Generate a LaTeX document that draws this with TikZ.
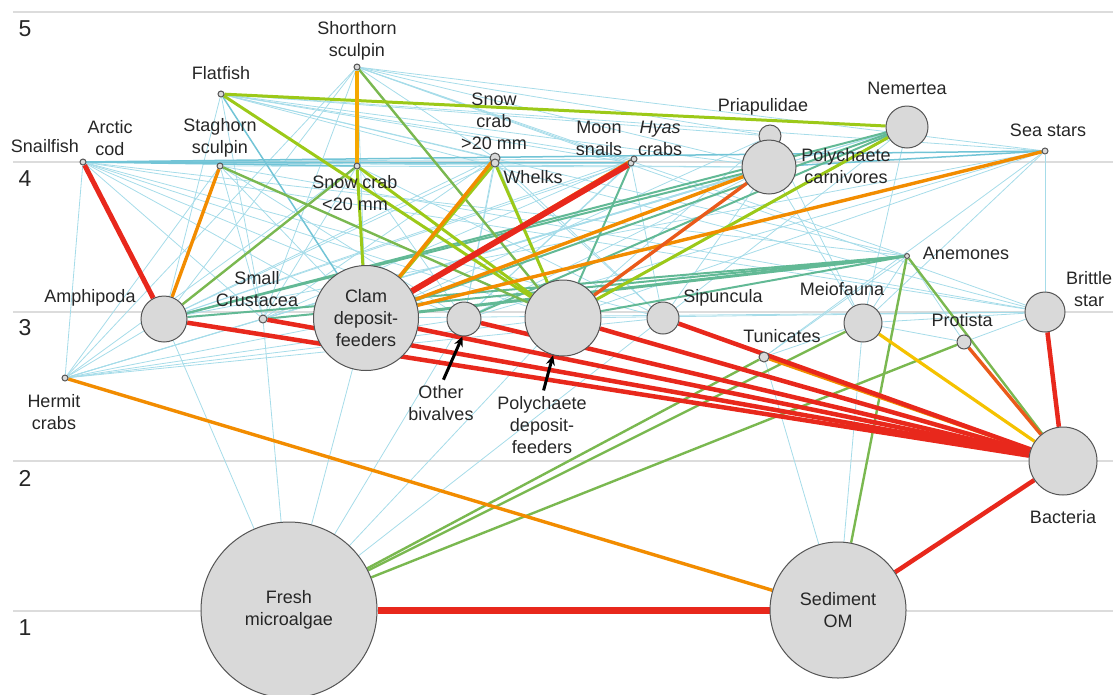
\documentclass[tikz,border=0pt]{standalone}
\usepackage{fontspec}
\setmainfont{Liberation Sans}
\usetikzlibrary{arrows.meta}
\pgfdeclarelayer{bg}
\pgfsetlayers{bg,main}
\definecolor{cLB}{HTML}{A6DCE9}
\definecolor{cTB}{HTML}{72C4D6}
\definecolor{cTG}{HTML}{62B995}
\definecolor{cGR}{HTML}{7AB850}
\definecolor{cYG}{HTML}{9CC918}
\definecolor{cYE}{HTML}{F5C200}
\definecolor{cAM}{HTML}{F5A800}
\definecolor{cOR}{HTML}{F28C00}
\definecolor{cOR2}{HTML}{EA5A1A}
\definecolor{cRD}{HTML}{E8281C}
\definecolor{nfill}{HTML}{D9D9D9}
\definecolor{nedge}{HTML}{555555}
\definecolor{txt}{HTML}{262626}
\definecolor{gridc}{HTML}{DCDCDC}
\tikzset{
  bub/.style={circle, draw=nedge, fill=nfill, line width=1pt, inner sep=0pt, minimum size=#1},
  lab/.style={font=\fontsize{18}{22}\selectfont, text=txt, align=center, inner sep=0pt},
  lvl/.style={font=\fontsize{23}{26}\selectfont, text=txt, inner sep=0pt},
  gridline/.style={draw=gridc, line width=1.2pt},
  eLB/.style={draw=cLB, line width=0.8pt},
  eTB/.style={draw=cTB, line width=1.5pt},
  eTG/.style={draw=cTG, line width=2pt},
  eGR/.style={draw=cGR, line width=2.4pt},
  eYG/.style={draw=cYG, line width=3pt},
  eYE/.style={draw=cYE, line width=3.2pt},
  eAM/.style={draw=cAM, line width=3.2pt},
  eOR/.style={draw=cOR, line width=3.4pt},
  eOR2/.style={draw=cOR2, line width=3.4pt},
  eRD/.style={draw=cRD, line width=4.5pt},
  pointer/.style={draw=black, line width=3pt, -{Stealth[length=10pt,width=9pt]}, shorten <=6pt}
}
\begin{document}
\begin{tikzpicture}[x=1pt,y=-1pt]
\useasboundingbox (0,0) rectangle (1113,694);
% level numbers
\node[lvl] (l5) at (25,29) {5};
\node[lvl] (l4) at (25,179) {4};
\node[lvl] (l3) at (25,328) {3};
\node[lvl] (l2) at (25,478) {2};
\node[lvl] (l1) at (25,628) {1};
% nodes
\node[bub=6pt] (cod) at (83,162) {};
\node[bub=6pt] (flat) at (221,94) {};
\node[bub=6pt] (shorth) at (357,67) {};
\node[bub=6pt] (stag) at (220,166) {};
\node[bub=6pt] (scs) at (357,166) {};
\node[bub=10pt] (scl) at (495,158) {};
\node[bub=8pt] (whelk) at (495,163) {};
\node[bub=6pt] (moon) at (631,163) {};
\node[bub=6pt] (hyas) at (634,159) {};
\node[bub=22pt] (pria) at (770,136) {};
\node[bub=54pt] (pcar) at (769,167) {};
\node[bub=42pt] (nem) at (907,127) {};
\node[bub=6pt] (sea) at (1045,151) {};
\node[bub=5pt] (anem) at (907,256) {};
\node[bub=46pt] (amph) at (164,319) {};
\node[bub=8pt] (scru) at (263,319) {};
\node[bub=105pt, lab] (clam) at (366,318) {Clam\\deposit-\\feeders};
\node[bub=34pt] (obiv) at (464,319) {};
\node[bub=76pt] (pdf) at (563,318) {};
\node[bub=32pt] (sip) at (663,318) {};
\node[bub=10pt] (tun) at (764,357) {};
\node[bub=38pt] (mei) at (863,323) {};
\node[bub=14pt] (prot) at (964,342) {};
\node[bub=40pt] (brit) at (1045,312) {};
\node[bub=6pt] (herm) at (65,378) {};
\node[bub=68pt] (bact) at (1063,461) {};
\node[bub=176pt, lab] (fresh) at (289,610) {Fresh\\microalgae};
\node[bub=136pt, lab] (sed) at (838,610) {Sediment\\OM};
% labels
\node[lab] (snaillab) at (45,146) {Snailfish};
\node[lab] (codlab) at (110,138) {Arctic\\cod};
\node[lab] (flatlab) at (221,73) {Flatfish};
\node[lab] (shorthlab) at (357,41) {Shorthorn\\sculpin};
\node[lab] (staglab) at (220,138) {Staghorn\\sculpin};
\node[lab] (scslab) at (355,193) {Snow crab\\<20 mm};
\node[lab] (scllab) at (494,121) {Snow\\crab\\>20 mm};
\node[lab] (whelklab) at (533,177) {Whelks};
\node[lab] (moonlab) at (599,138) {Moon\\snails};
\node[lab] (hyaslab) at (660,138) {\textit{Hyas}\\crabs};
\node[lab] (prialab) at (763,107) {Priapulidae};
\node[lab] (pcarlab) at (846,166) {Polychaete\\carnivores};
\node[lab] (nemlab) at (907,88) {Nemertea};
\node[lab] (sealab) at (1048,130) {Sea stars};
\node[lab] (anemlab) at (966,253) {Anemones};
\node[lab] (amphlab) at (90,298) {Amphipoda};
\node[lab] (scrulab) at (257,289) {Small\\Crustacea};
\node[lab] (siplab) at (723,298) {Sipuncula};
\node[lab] (meilab) at (842,289) {Meiofauna};
\node[lab] (tunlab) at (782,336) {Tunicates};
\node[lab] (protlab) at (962,320) {Protista};
\node[lab] (britlab) at (1089,289) {Brittle\\star};
\node[lab] (hermlab) at (54,412) {Hermit\\crabs};
\node[lab] (obivlab) at (441,403) {Other\\bivalves};
\node[lab] (pdflab) at (542,425) {Polychaete\\deposit-\\feeders};
\node[lab] (bactlab) at (1063,517) {Bacteria};
% pointers
\draw[pointer] (obivlab.north) -- (obiv.265);
\draw[pointer] (pdflab.north) -- (pdf.255);
\begin{pgfonlayer}{bg}
\draw[gridline] (13,12) -- (1113,12);
\draw[gridline] (13,162) -- (1113,162);
\draw[gridline] (13,312) -- (1113,312);
\draw[gridline] (13,461) -- (1113,461);
\draw[gridline] (13,611) -- (1113,611);
% thin light blue links
\foreach \a/\b in {cod/herm,cod/scru,cod/clam,cod/obiv,cod/pdf,cod/sip,cod/pcar,cod/hyas,cod/brit,cod/anem,
  flat/amph,flat/scl,flat/moon,flat/hyas,flat/pria,flat/pcar,flat/sea,flat/anem,flat/brit,flat/scru,
  shorth/scru,shorth/amph,shorth/scl,shorth/moon,shorth/pcar,shorth/sea,shorth/anem,shorth/brit,shorth/pria,shorth/herm,shorth/clam,
  stag/scru,stag/clam,stag/obiv,stag/pcar,stag/herm,stag/brit,
  scs/scru,scs/obiv,scs/sip,scs/herm,
  scl/amph,scl/scru,scl/obiv,scl/pdf,scl/sip,
  whelk/obiv,whelk/sip,whelk/amph,
  moon/obiv,moon/sip,moon/amph,hyas/amph,hyas/scru,hyas/obiv,
  pcar/scru,pcar/obiv,pcar/sip,pcar/mei,pcar/herm,
  pria/pdf,pria/clam,pria/mei,
  nem/scru,nem/sip,nem/mei,nem/herm,
  sea/brit,sea/pdf,sea/obiv,sea/mei,sea/tun,sea/amph,
  anem/mei,anem/prot,anem/tun,anem/scru,
  brit/mei,brit/prot,brit/clam,brit/pdf,
  herm/amph,herm/scru,herm/clam,herm/obiv,herm/pdf,herm/sip,
  fresh/amph,fresh/scru,fresh/clam,fresh/obiv,fresh/pdf,fresh/sip,
  sed/tun,sed/mei,mei/prot,tun/mei}
  \draw[eLB] (\a) -- (\b);
% teal blue links
\foreach \a/\b in {cod/sea,cod/moon,cod/whelk,cod/scs,flat/clam,sea/pcar}
  \draw[eTB] (\a) -- (\b);
% teal green links
\foreach \a/\b in {amph/anem,amph/pcar,amph/nem,clam/nem,clam/sea,scru/anem,pdf/anem,obiv/nem,moon/pdf,clam/pcar,pdf/nem}
  \draw[eTG] (\a) -- (\b);
\draw[eTG, line width=3pt] (clam) -- (anem);
% green links
\foreach \a/\b in {shorth/pdf,stag/pdf,scs/amph,anem/bact,anem/sed,tun/fresh,mei/fresh,prot/fresh}
  \draw[eGR] (\a) -- (\b);
% yellow-green links
\foreach \a/\b in {flat/nem,flat/pdf,scs/clam,scs/pdf,whelk/clam,whelk/pdf,nem/pdf}
  \draw[eYG] (\a) -- (\b);
% orange and yellow links
\draw[eAM] (shorth) -- (scs);
\foreach \a/\b in {stag/amph,scl/clam,hyas/clam,pcar/clam,sea/clam,herm/sed,tun/bact}
  \draw[eOR] (\a) -- (\b);
\foreach \a/\b in {pcar/pdf,prot/bact}
  \draw[eOR2] (\a) -- (\b);
\draw[eYE] (mei) -- (bact);
% red links
\foreach \a/\b in {amph/bact,scru/bact,clam/bact,obiv/bact,pdf/bact,sip/bact,brit/bact,sed/bact}
  \draw[eRD] (\a) -- (\b);
\draw[eRD, line width=5pt] (cod) -- (amph);
\draw[eRD, line width=6pt] (moon) -- (clam);
\draw[eRD, line width=7pt] (fresh) -- (sed);
\end{pgfonlayer}
\end{tikzpicture}
\end{document}
